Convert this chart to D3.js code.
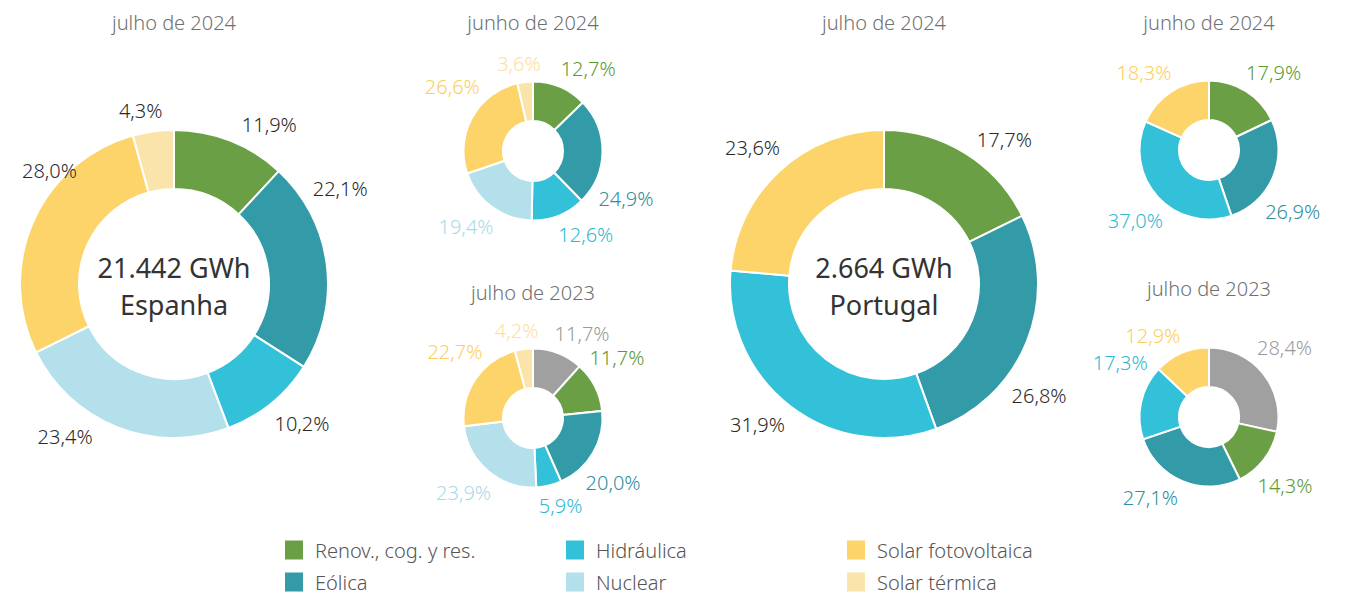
<!DOCTYPE html>
<html>
<head>
<meta charset="utf-8">
<script src="https://cdn.jsdelivr.net/npm/d3@7"></script>
<style>
  html, body { margin: 0; padding: 0; background: #fff; }
  svg { display: block; font-family: "Noto Sans", "Open Sans", sans-serif; font-weight: 300; }
</style>
</head>
<body>
<svg width="1361" height="597"></svg>
<script>
// Categories (first one is the grey, unlabeled one that only shows up in 2023)
const categories = ["Outros", "Renov., cog. y res.", "Eólica", "Hidráulica", "Nuclear", "Solar fotovoltaica", "Solar térmica"];
const sliceColors = ["#a0a0a0", "#6a9f45", "#339ba8", "#33c1d9", "#b3e0eb", "#fdd46a", "#fbe4a9"];
const labelColors = ["#9b9b9b", "#5d9a35", "#2f8f9c", "#2fbad3", "#a8dbe8", "#fccf5c", "#fbe1a3"];

// Shares (%) per donut, in category order
const espanhaJul2024 = [0, 11.9, 22.1, 10.2, 23.4, 28.0, 4.3];
const espanhaJun2024 = [0, 12.7, 24.9, 12.6, 19.4, 26.6, 3.6];
const espanhaJul2023 = [11.7, 11.7, 20.0, 5.9, 23.9, 22.7, 4.2];
const portugalJul2024 = [0, 17.7, 26.8, 31.9, 0, 23.6, 0];
const portugalJun2024 = [0, 17.9, 26.9, 37.0, 0, 18.3, 0];
const portugalJul2023 = [28.4, 14.3, 27.1, 17.3, 0, 12.9, 0];

const totalsGWh = [21442, 2664];
const countries = ["Espanha", "Portugal"];
const titles = ["julho de 2024", "junho de 2024", "julho de 2023"];

// legend entries (grey is not in the legend), laid out column by column
const legendItems = [1, 2, 3, 4, 5, 6];

const svg = d3.select("svg");

const fmtPct = v => d3.format(".1f")(v).replace(".", ",") + "%";
const fmtTotal = v => d3.format(",")(v).replace(/,/g, ".") + " GWh";

const donuts = [
  { title: titles[0], values: espanhaJul2024, cx: 174, cy: 284, r: 154, ir: 95, big: true, total: totalsGWh[0], name: countries[0], ty: 22 },
  { title: titles[1], values: espanhaJun2024, cx: 533, cy: 151, r: 69.5, ir: 30, big: false, ty: 22 },
  { title: titles[2], values: espanhaJul2023, cx: 533, cy: 418, r: 69.5, ir: 30, big: false, ty: 292 },
  { title: titles[0], values: portugalJul2024, cx: 884, cy: 284, r: 154, ir: 95, big: true, total: totalsGWh[1], name: countries[1], ty: 22 },
  { title: titles[1], values: portugalJun2024, cx: 1209, cy: 150, r: 69.5, ir: 30, big: false, ty: 22 },
  { title: titles[2], values: portugalJul2023, cx: 1209, cy: 417, r: 69.5, ir: 30, big: false, ty: 288 }
];

const pie = d3.pie().sort(null).value(d => d.v);
const QUARTER = Math.PI / 2;

// label direction: pull the mid angle toward the nearest diagonal, but stay inside the slice
function labelAngle(d) {
  const mid = (d.startAngle + d.endAngle) / 2;
  const diag = Math.round((mid - QUARTER / 2) / QUARTER) * QUARTER + QUARTER / 2;
  let a = mid + 0.6 * (diag - mid);
  const m = Math.min((d.endAngle - d.startAngle) * 0.3, 12 * Math.PI / 180);
  return Math.max(d.startAngle + m, Math.min(d.endAngle - m, a));
}

donuts.forEach(cfg => {
  const data = cfg.values.map((v, i) => ({ v, i })).filter(d => d.v > 0);
  const arcs = pie(data);
  const arc = d3.arc().innerRadius(cfg.ir).outerRadius(cfg.r);

  svg.append("text")
    .attr("x", cfg.cx).attr("y", cfg.ty)
    .attr("text-anchor", "middle").attr("dominant-baseline", "central")
    .attr("fill", "#707070").style("font-size", "20px")
    .text(cfg.title);

  const g = svg.append("g").attr("transform", `translate(${cfg.cx},${cfg.cy})`);

  g.selectAll("path").data(arcs).join("path")
    .attr("d", arc)
    .attr("fill", d => sliceColors[d.data.i])
    .attr("stroke", "#fff").attr("stroke-width", 2);

  const gap = cfg.big ? 9 : 6;
  g.selectAll("text.lbl").data(arcs).join("text")
    .attr("class", "lbl")
    .attr("text-anchor", "middle")
    .attr("dominant-baseline", "central")
    .attr("fill", d => cfg.big ? "#2a2a2a" : labelColors[d.data.i])
    .style("font-size", "20px")
    .text(d => fmtPct(d.data.v))
    .each(function(d) {
      const w = this.getComputedTextLength(), h = 20;
      const a = labelAngle(d);
      const s = Math.sin(a), c = Math.cos(a);
      const D = cfg.r + gap + (w / 2) * Math.abs(s) + (h / 2) * Math.abs(c);
      let x = s * D;
      const y = -c * D;
      // keep the label inside the page on the far left
      if (cfg.cx + x - w / 2 < 22) x = 22 + w / 2 - cfg.cx;
      d3.select(this).attr("x", x).attr("y", y);
    });

  if (cfg.big) {
    g.append("text").attr("y", -17)
      .attr("text-anchor", "middle").attr("dominant-baseline", "central")
      .attr("fill", "#333").style("font-size", "27px").style("font-weight", 400)
      .text(fmtTotal(cfg.total));
    g.append("text").attr("y", 20)
      .attr("text-anchor", "middle").attr("dominant-baseline", "central")
      .attr("fill", "#333").style("font-size", "27px").style("font-weight", 400)
      .text(cfg.name);
  }
});

// legend: 3 columns x 2 rows
const legendX = d3.scalePoint().domain([0, 1, 2]).range([285, 847]);
const legendY = d3.scalePoint().domain([0, 1]).range([550, 582]);

const lg = svg.selectAll("g.legend").data(legendItems).join("g")
  .attr("class", "legend")
  .attr("transform", (d, k) => `translate(${legendX(Math.floor(k / 2))},${legendY(k % 2)})`);

lg.append("rect")
  .attr("x", 0).attr("y", -9.5).attr("width", 18).attr("height", 19)
  .attr("fill", d => sliceColors[d]);

lg.append("text")
  .attr("x", 30).attr("y", 0)
  .attr("dominant-baseline", "central")
  .attr("fill", "#555").style("font-size", "20px")
  .text(d => categories[d]);
</script>
</body>
</html>
